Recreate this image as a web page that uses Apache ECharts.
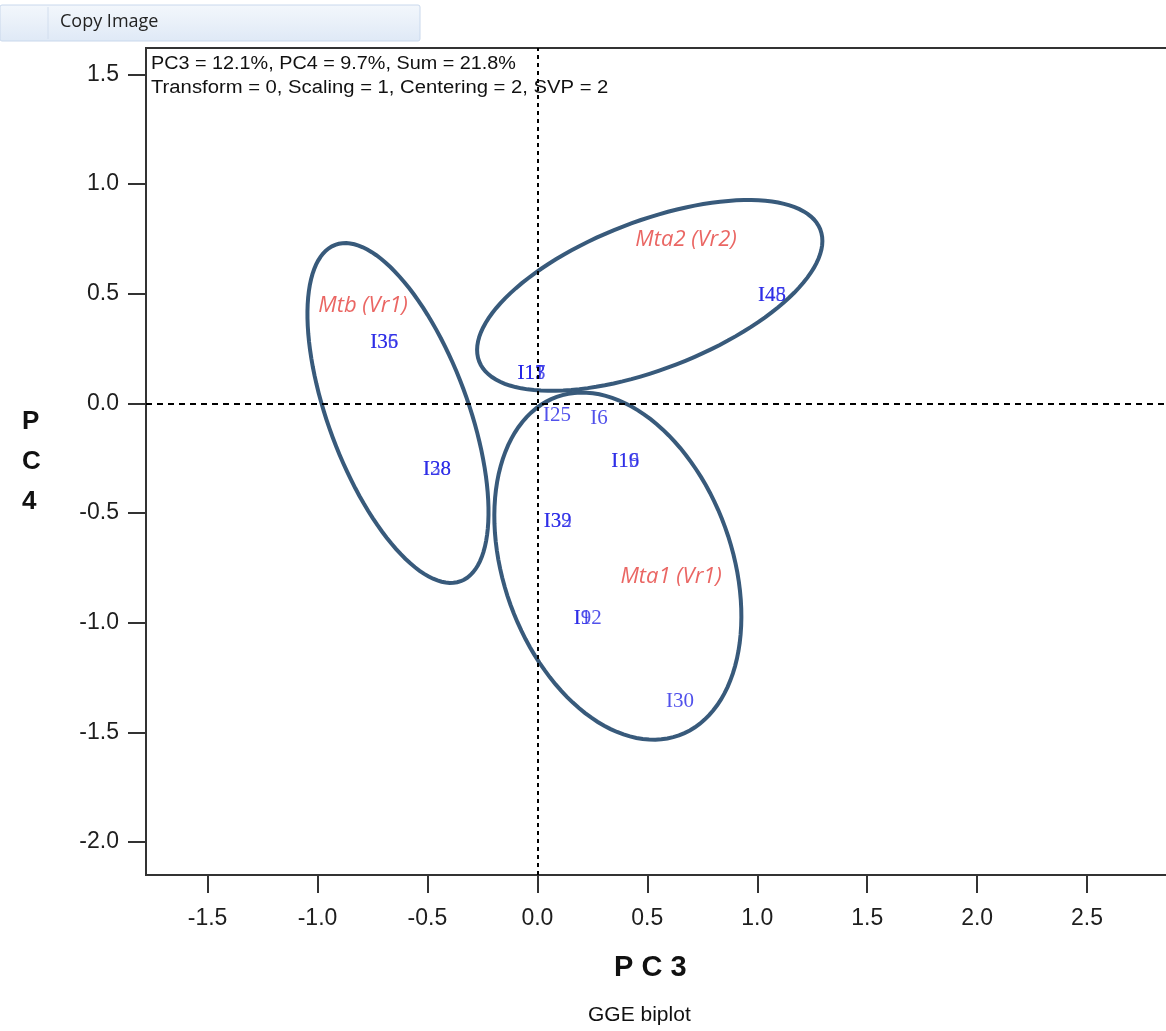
<!DOCTYPE html>
<html>
<head>
<meta charset="utf-8">
<script src="https://cdn.jsdelivr.net/npm/echarts@6/dist/echarts.min.js"></script>
<style>html,body{margin:0;padding:0;background:#fff;}#chart{width:1166px;height:1031px;}</style>
</head>
<body>
<div id="chart"></div>
<script>
// ---- data ----
const genotypeNames = ['I35','I36','I38','I28','I11','I13','I17','I25','I6','I16','I19','I39','I32','I9','I12','I30','I45','I48'];
const genotypeX     = [-0.76,-0.76,-0.52,-0.52,-0.09,-0.09,-0.09,0.026,0.241,0.336,0.336,0.029,0.029,0.165,0.165,0.585,1.003,1.003];
const genotypeY     = [0.279,0.279,-0.302,-0.302,0.135,0.135,0.135,-0.055,-0.07,-0.267,-0.267,-0.54,-0.54,-0.98,-0.98,-1.36,0.492,0.492];
const groupNames = ['Mtb (Vr1)','Mta2 (Vr2)','Mta1 (Vr1)'];
const groupX     = [-0.793, 0.676, 0.608];
const groupY     = [0.446, 0.745, -0.791];
const ellipseCX    = [-0.634, 0.511, 0.366];
const ellipseCY    = [-0.044, 0.492, -0.742];
const ellipseA     = [0.818, 0.832, 0.82];
const ellipseB     = [0.317, 0.337, 0.519];
const ellipseAngle = [-69.6, 21.2, -70.2];
const xTicks = [-1.5,-1.0,-0.5,0.0,0.5,1.0,1.5,2.0,2.5];
const yTicks = [-2.0,-1.5,-1.0,-0.5,0.0,0.5,1.0,1.5];
const infoLines = ['PC3 = 12.1%, PC4 = 9.7%, Sum = 21.8%', 'Transform = 0, Scaling = 1, Centering = 2, SVP = 2'];

const chart = echarts.init(document.getElementById('chart'));
const ellipseData = ellipseCX.map((c, i) => [c, ellipseCY[i], ellipseA[i], ellipseB[i], ellipseAngle[i]]);

function renderEllipse(params, api) {
  const cx = api.value(0), cy = api.value(1), a = api.value(2), b = api.value(3);
  const ang = api.value(4) * Math.PI / 180;
  const pts = [];
  const n = 120;
  for (let k = 0; k < n; k++) {
    const t = 2 * Math.PI * k / n;
    const ex = a * Math.cos(t), ey = b * Math.sin(t);
    const x = cx + ex * Math.cos(ang) - ey * Math.sin(ang);
    const y = cy + ex * Math.sin(ang) + ey * Math.cos(ang);
    pts.push(api.coord([x, y]));
  }
  return { type: 'polygon', shape: { points: pts }, style: { fill: 'none', stroke: '#385a7b', lineWidth: 4 } };
}

const axisLabelStyle = { color: '#1e1e1e', fontSize: 23, fontFamily: 'Liberation Sans' };

chart.setOption({
  backgroundColor: '#fff',
  animation: false,
  grid: { left: 146, right: -31, top: 48, bottom: 156, show: true, borderColor: '#333', borderWidth: 2, outerBoundsMode: 'none', containLabel: false },
  xAxis: {
    type: 'value', min: -1.78, max: 3.0,
    axisLine: { show: true, onZero: false, lineStyle: { color: '#333', width: 2 } },
    axisTick: { show: true, inside: false, length: 18, customValues: xTicks, lineStyle: { color: '#333', width: 2 } },
    axisLabel: { show: true, customValues: xTicks, margin: 32, formatter: v => v.toFixed(1), ...axisLabelStyle },
    splitLine: { show: false }
  },
  yAxis: {
    type: 'value', min: -2.15, max: 1.62,
    axisLine: { show: true, onZero: false, lineStyle: { color: '#333', width: 2 } },
    axisTick: { show: true, inside: false, length: 18, customValues: yTicks, lineStyle: { color: '#333', width: 2 } },
    axisLabel: { show: true, customValues: yTicks, margin: 27, formatter: v => v.toFixed(1), ...axisLabelStyle },
    splitLine: { show: false }
  },
  graphic: [
    { type: 'rect', shape: { x: 0, y: 5, width: 420, height: 36, r: 2 }, style: { fill: new echarts.graphic.LinearGradient(0,0,0,1,[{offset:0,color:'#f3f7fc'},{offset:1,color:'#dfe9f6'}]), stroke: '#c9d8ec', lineWidth: 1 }, z: 10 },
    { type: 'line', shape: { x1: 48, y1: 7, x2: 48, y2: 39 }, style: { stroke: '#d2deee', lineWidth: 1 }, z: 11 },
    { type: 'text', x: 60, y: 13, style: { text: 'Copy Image', fill: '#222', fontSize: 18, fontFamily: 'Open Sans' }, z: 11 },
    { type: 'text', x: 151, y: 55, scaleX: 1.1, style: { text: infoLines[0], fill: '#111', fontSize: 18, fontFamily: 'Liberation Sans' }, z: 11 },
    { type: 'text', x: 151, y: 79, scaleX: 1.125, style: { text: infoLines[1], fill: '#111', fontSize: 18, fontFamily: 'Liberation Sans' }, z: 11 },
    { type: 'text', x: 614, y: 953, style: { text: 'P C 3', fill: '#111', fontSize: 29, fontWeight: 'bold', fontFamily: 'Liberation Sans' }, z: 11 },
    { type: 'text', x: 22, y: 402, style: { text: 'P\nC\n4', fill: '#111', fontSize: 26, fontWeight: 'bold', lineHeight: 40, align: 'left', fontFamily: 'Liberation Sans' }, z: 11 },
    { type: 'text', x: 588, y: 1005, scaleX: 1.05, style: { text: 'GGE biplot', fill: '#111', fontSize: 20, fontFamily: 'Liberation Sans' }, z: 11 }
  ],
  series: [
    {
      type: 'custom', renderItem: renderEllipse, data: ellipseData, encode: { x: 0, y: 1 }, clip: true, z: 3, silent: true
    },
    {
      type: 'scatter', symbolSize: 0, silent: true, z: 4,
      data: genotypeNames.map((n, i) => ({ name: n, value: [genotypeX[i], genotypeY[i]] })),
      label: { show: true, position: 'right', distance: 0, formatter: p => p.name, color: '#2626e6', fontSize: 21, fontFamily: 'Liberation Serif' },
      markLine: {
        silent: true, symbol: 'none', label: { show: false },
        data: [
          { xAxis: 0, lineStyle: { color: '#000', type: [4, 4], width: 2 } },
          { yAxis: 0, lineStyle: { color: '#000', type: [6, 5], width: 2 } }
        ]
      }
    },
    {
      type: 'scatter', symbolSize: 0, silent: true, z: 4,
      data: groupNames.map((n, i) => ({ name: n, value: [groupX[i], groupY[i]] })),
      label: { show: true, position: 'inside', formatter: p => p.name, color: '#e5403c', fontSize: 22, fontStyle: 'italic', fontFamily: 'Open Sans' }
    }
  ]
});
</script>
</body>
</html>
